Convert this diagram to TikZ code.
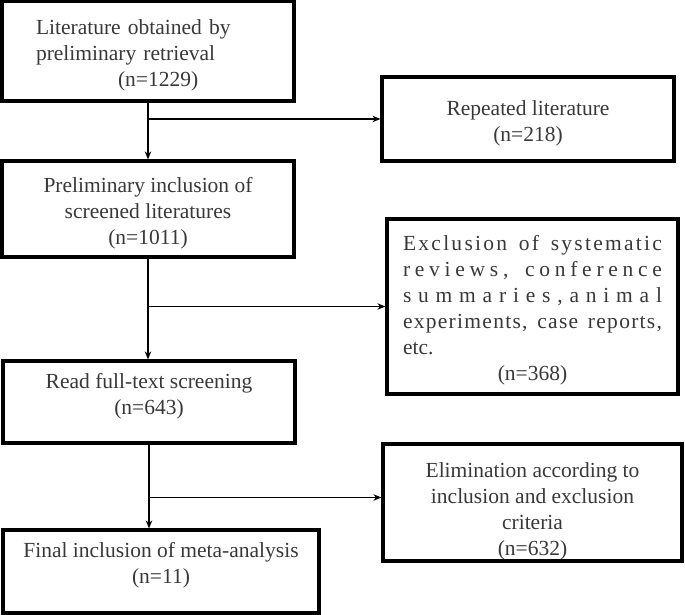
\documentclass[tikz,border=0pt]{standalone}
\usepackage{fontspec}
\setmainfont{Liberation Serif}
\usetikzlibrary{arrows.meta,positioning,calc}

% spread a line over the text width, letter by letter
\makeatletter
\def\sp@line#1 #2\@end{\sp@letters#1\@stop\ifx\relax#2\relax\else\hfil\ \hfil\sp@line#2\@end\fi}
\def\sp@letters#1#2\@stop{#1\ifx\relax#2\relax\else\hfil\sp@letters#2\@stop\fi}
\newcommand{\spreadline}[1]{\leavevmode\hbox to 259pt{\sp@line#1 \@end}}
\makeatother
\newcommand{\topstrut}{\rule{0pt}{23pt}}
\newcommand{\padup}{\rule[-25pt]{0pt}{25pt}}
\newcommand{\paddown}{\rule{0pt}{32pt}}

\begin{document}
\begin{tikzpicture}[x=1pt,y=-1pt,
  box/.style={draw, line width=3.2pt, inner sep=0pt, text=black!78, align=center,
    font=\fontsize{21.5}{26}\selectfont},
  link/.style={line width=1.8pt, -{Stealth[length=8pt,width=6.5pt]}}]
\useasboundingbox (0,0) rectangle (685,615);

\node[box, minimum width=292pt, minimum height=100pt, text width=224pt, align=left] (lit) at (148,51)
  {\topstrut Literature obtained by\\preliminary retrieval\\\hspace*{82pt}(n=1229)};
\node[box, minimum width=292pt, minimum height=84pt] (rep) at (528,119)
  {\topstrut Repeated literature\\(n=218)};
\node[box, minimum width=292pt, minimum height=96pt] (prelim) at (148,209)
  {\topstrut Preliminary inclusion of\\screened literatures\\(n=1011)};
\node[box, minimum width=291pt, minimum height=175pt, text width=259pt, align=left] (excl) at (532.5,306.5)
  {\topstrut\spreadline{Exclusion of systematic}\\
   \spreadline{reviews, conference}\\
   \spreadline{summaries,animal}\\
   \spreadline{experiments, case reports,}\\
   etc.\\
   \hfill(n=368)\hfill\null};
\node[box, minimum width=292pt, minimum height=82pt] (read) at (149,402)
  {\topstrut Read full-text screening\\(n=643)\padup};
\node[box, minimum width=299pt, minimum height=117pt] (elim) at (532.5,502.5)
  {\paddown Elimination according to\\inclusion and exclusion\\criteria\\(n=632)};
\node[box, minimum width=316pt, minimum height=83pt] (final) at (161,571.5)
  {\topstrut Final inclusion of meta-analysis\\(n=11)\padup};

\coordinate (j1) at (lit.south |- rep.west);
\coordinate (j2) at (prelim.south |- excl.west);
\coordinate (j3) at ([yshift=5pt]read.south |- elim.west);

\draw[link] (lit) -- (prelim);
\draw[link] (prelim) -- (prelim |- read.north);
\draw[link] (read.south) -- (read.south |- final.north);
\draw[link] (j1) -- (rep.west);
\draw[link] (j2) -- (excl.west);
\draw[link] (j3) -- (j3 -| elim.west);
\end{tikzpicture}
\end{document}
